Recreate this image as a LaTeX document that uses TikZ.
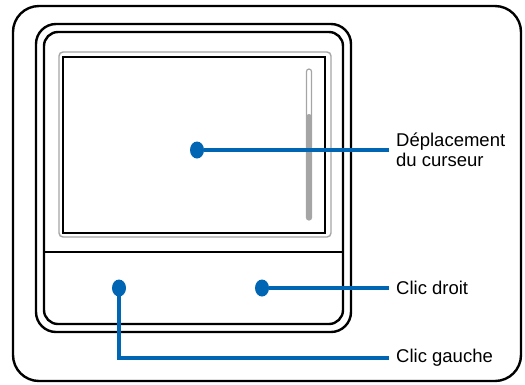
\documentclass[tikz,border=0pt]{standalone}
\usepackage{fontspec}
\setmainfont{Liberation Sans}
\usetikzlibrary{positioning,shapes.geometric}
\definecolor{padblue}{RGB}{0,102,179}
\definecolor{padgray}{RGB}{165,165,165}

\begin{document}
\begin{tikzpicture}[x=1pt,y=-1pt,
  frame/.style={draw,line width=2.4pt},
  dot/.style={ellipse,fill=padblue,inner sep=0pt,minimum width=14pt,minimum height=17pt},
  lead/.style={draw=padblue,line width=3.2pt},
  tag/.style={anchor=west,inner xsep=7pt,inner ysep=0pt,align=left,
    font=\fontsize{18.5}{20}\selectfont}]
  \useasboundingbox (0,0) rectangle (525,384);
  % casing and touchpad outlines
  \draw[frame,rounded corners=26pt] (13,6) rectangle (521,381);
  \draw[frame,rounded corners=20pt] (36,24) rectangle (351,332);
  \draw[frame,rounded corners=14pt] (44,32) rectangle (343,324);
  \draw[line width=2pt] (44,252) -- (343,252);
  % surface
  \draw[padgray,line width=1.4pt,rounded corners=4pt] (59,52) rectangle (331,237);
  \draw[line width=2pt] (63,57) rectangle (325,233);
  % scroll strip
  \fill[padgray,rounded corners=2.5pt] (306.5,114) rectangle (311.5,220);
  \draw[padgray,line width=1.2pt,rounded corners=2.5pt] (306.5,69) rectangle (311.5,220);
  % labelled spots
  \node[dot] (move) at (197,150) {};
  \node[dot] (left) at (119,288) {};
  \node[dot] (right) at (262,288) {};
  \node[tag] (tmove) at (389,150) {Déplacement\\du curseur};
  \node[tag] (tright) at (389,288) {Clic droit};
  \node[tag] (tleft) at (389,358) {Clic gauche};
  \path[lead]
    (move) -- (tmove.west)
    (right) -- (tright.west)
    (left.center) |- (tleft.west);
\end{tikzpicture}
\end{document}
